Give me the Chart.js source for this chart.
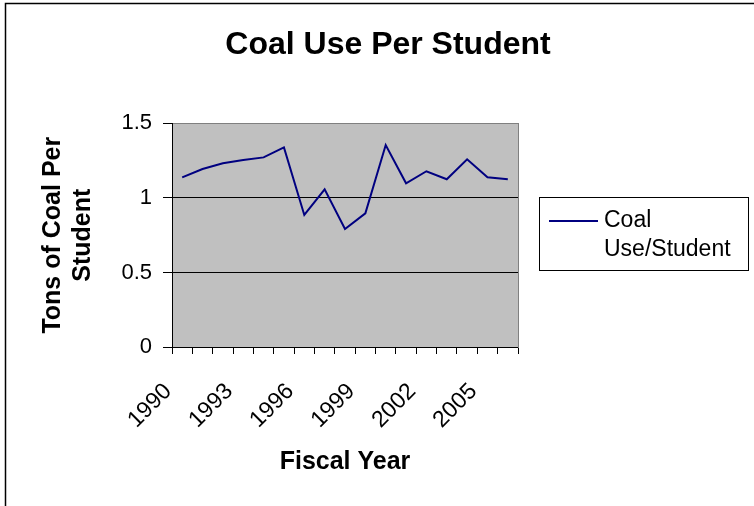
<!DOCTYPE html>
<html>
<head>
<meta charset="utf-8">
<script src="https://cdn.jsdelivr.net/npm/chart.js@4.4.1/dist/chart.umd.min.js"></script>
<style>
  html, body { margin: 0; padding: 0; background: #fff; }
  #wrap { width: 754px; height: 506px; position: relative; }
</style>
</head>
<body>
<div id="wrap"><canvas id="coalChart"></canvas></div>
<script>
// chart data
const years = ['1990', '1991', '1992', '1993', '1994', '1995', '1996', '1997', '1998',
               '1999', '2000', '2001', '2002', '2003', '2004', '2005', '2006'];
const coalPerStudent = [1.138, 1.194, 1.232, 1.254, 1.272, 1.339, 0.886, 1.058, 0.792,
                        0.897, 1.355, 1.098, 1.179, 1.125, 1.259, 1.138, 1.125];
const seriesName = 'Coal Use/Student';
const legendLines = ['Coal', 'Use/Student'];
const yMin = 0, yMax = 1.5, yStep = 0.5;

const FONT = "'Liberation Sans', Arial, sans-serif";

// gray plot area + outer frame + legend box
const excelLook = {
    id: 'excelLook',
    beforeDraw(chart) {
        const {ctx, chartArea: a} = chart;
        ctx.save();
        ctx.fillStyle = '#c0c0c0';
        ctx.fillRect(a.left, a.top, a.right - a.left, a.bottom - a.top);
        ctx.restore();
    },
    afterDraw(chart) {
        const ctx = chart.ctx;
        ctx.save();
        // outer chart frame (right/bottom fall outside the picture)
        ctx.strokeStyle = '#000';
        ctx.lineWidth = 1.5;
        ctx.beginPath();
        ctx.moveTo(5.5, 520);
        ctx.lineTo(5.5, 3.5);
        ctx.lineTo(760, 3.5);
        ctx.stroke();

        // legend
        ctx.lineWidth = 1;
        ctx.strokeRect(539.5, 197.5, 209, 73);
        const ds = chart.data.datasets[0];
        ctx.strokeStyle = ds.borderColor;
        ctx.lineWidth = 2;
        ctx.beginPath();
        ctx.moveTo(549, 221);
        ctx.lineTo(598, 221);
        ctx.stroke();
        ctx.fillStyle = '#000';
        ctx.font = '23px ' + FONT;
        ctx.textBaseline = 'alphabetic';
        ctx.textAlign = 'left';
        ctx.fillText(legendLines[0], 604, 227);
        ctx.fillText(legendLines[1], 604, 256);
        ctx.restore();
    }
};

const ctx = document.getElementById('coalChart').getContext('2d');
new Chart(ctx, {
    type: 'line',
    data: {
        labels: years,
        datasets: [{
            label: seriesName,
            data: coalPerStudent,
            borderColor: '#000080',
            backgroundColor: '#000080',
            borderWidth: 2,
            pointRadius: 0,
            tension: 0,
            fill: false
        }]
    },
    options: {
        responsive: true,
        maintainAspectRatio: false,
        animation: false,
        layout: { padding: { left: 22, right: 0, top: 0, bottom: 0 } },
        plugins: {
            legend: { display: false },
            tooltip: { enabled: false },
            title: {
                display: true,
                text: 'Coal Use Per Student',
                color: '#000',
                font: { family: FONT, size: 32, weight: 'bold', lineHeight: 1.2 },
                padding: { top: 26, bottom: 59 }
            }
        },
        scales: {
            x: {
                offset: true,
                grid: {
                    offset: true,
                    drawOnChartArea: false,
                    tickLength: 7,
                    color: '#000',
                    tickColor: '#000'
                },
                border: { color: '#000', width: 1 },
                ticks: {
                    autoSkip: false,
                    minRotation: 45,
                    maxRotation: 45,
                    padding: 24,
                    labelOffset: -14,
                    color: '#000',
                    font: { family: FONT, size: 23 },
                    callback: function (val, index) {
                        return index % 3 === 0 ? this.getLabelForValue(val) : '';
                    }
                },
                title: {
                    display: true,
                    text: 'Fiscal Year',
                    color: '#000',
                    font: { family: FONT, size: 25, weight: 'bold', lineHeight: 1.2 },
                    padding: { top: 0, bottom: 29 }
                },
                afterFit: function (scale) { scale.height = 159; }
            },
            y: {
                min: yMin,
                max: yMax,
                ticks: {
                    stepSize: yStep,
                    padding: 11,
                    color: '#000',
                    font: { family: FONT, size: 22 },
                    callback: (v) => String(v)
                },
                grid: {
                    tickLength: 9,
                    color: (c) => c.tick && c.tick.value === yMax ? '#808080' : '#000',
                    tickColor: '#000'
                },
                border: { color: '#000', width: 1 },
                title: {
                    display: true,
                    text: ['Tons of Coal Per', 'Student'],
                    color: '#000',
                    font: { family: FONT, size: 25, weight: 'bold', lineHeight: 1.2 },
                    padding: { top: 16, bottom: 0 }
                },
                afterFit: function (scale) { scale.width = 150; }
            },
            // empty right axis: keeps room for the legend and draws the plot's right edge
            yRight: {
                position: 'right',
                display: true,
                grid: { display: false },
                ticks: { display: false },
                border: { color: '#808080', width: 1 },
                afterFit: function (scale) { scale.width = 236; }
            }
        }
    },
    plugins: [excelLook]
});
</script>
</body>
</html>
